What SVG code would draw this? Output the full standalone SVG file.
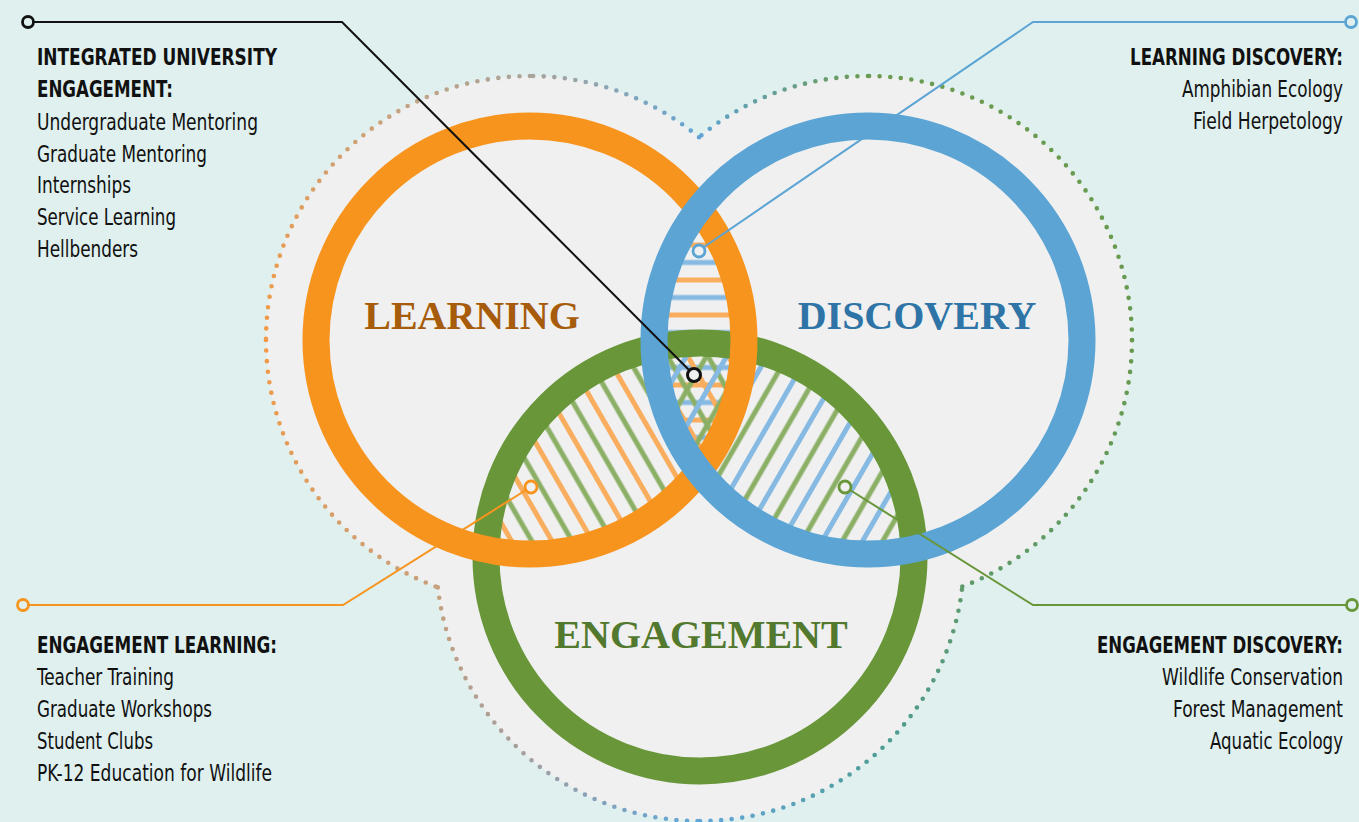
<svg xmlns="http://www.w3.org/2000/svg" width="1359" height="822" viewBox="0 0 1359 822">
<style>
.t{font-family:'Liberation Sans Narrow','DejaVu Sans Condensed','Liberation Sans',sans-serif;font-size:23px;fill:#111;}
.b{font-weight:bold;}
.big{font-family:'Liberation Serif','DejaVu Serif',serif;font-weight:bold;font-size:40px;text-anchor:middle;}
.dot{fill:none;stroke-width:4.6;stroke-linecap:round;stroke-dasharray:0 10.6;}
.ring{fill:none;stroke-width:27;}
.con{fill:none;stroke-width:2;}
</style>
<defs>
<linearGradient id="gL1" gradientUnits="userSpaceOnUse" x1="699" y1="137" x2="530" y2="76"><stop offset="0" stop-color="#62A4D4"/><stop offset="1" stop-color="#A8A49A"/></linearGradient>
<linearGradient id="gL2" gradientUnits="userSpaceOnUse" x1="530" y1="76" x2="266" y2="340"><stop offset="0" stop-color="#A8A49A"/><stop offset="0.35" stop-color="#C9A27E"/><stop offset="1" stop-color="#F29A45"/></linearGradient>
<linearGradient id="gL3" gradientUnits="userSpaceOnUse" x1="266" y1="340" x2="438" y2="587"><stop offset="0" stop-color="#F29A45"/><stop offset="1" stop-color="#C7A07E"/></linearGradient>
<linearGradient id="gE1" gradientUnits="userSpaceOnUse" x1="438" y1="587" x2="700" y2="821"><stop offset="0" stop-color="#C7A07E"/><stop offset="0.5" stop-color="#A69E9E"/><stop offset="1" stop-color="#62A6D6"/></linearGradient>
<linearGradient id="gE2" gradientUnits="userSpaceOnUse" x1="700" y1="821" x2="962" y2="587"><stop offset="0" stop-color="#62A6D6"/><stop offset="0.5" stop-color="#4E9C96"/><stop offset="1" stop-color="#5E9A6C"/></linearGradient>
<linearGradient id="gB1" gradientUnits="userSpaceOnUse" x1="962" y1="587" x2="1132" y2="340"><stop offset="0" stop-color="#5E9A6C"/><stop offset="1" stop-color="#679A4E"/></linearGradient>
<linearGradient id="gB2" gradientUnits="userSpaceOnUse" x1="1132" y1="340" x2="868" y2="76"><stop offset="0" stop-color="#679A4E"/><stop offset="1" stop-color="#6B9B52"/></linearGradient>
<linearGradient id="gB3" gradientUnits="userSpaceOnUse" x1="868" y1="76" x2="699" y2="137"><stop offset="0" stop-color="#6B9B52"/><stop offset="1" stop-color="#5FA3D3"/></linearGradient>
<pattern id="pLB" patternUnits="userSpaceOnUse" x="0" y="242.5" width="35" height="35"><rect x="0" y="0" width="35" height="5" fill="#F9AD5F"/><rect x="0" y="17.5" width="35" height="5" fill="#86BAE2"/></pattern>
<pattern id="pLE" patternUnits="userSpaceOnUse" width="35" height="35" patternTransform="rotate(60)"><rect x="0" y="0" width="35" height="5" fill="#F9AD5F"/><rect x="0" y="17.5" width="35" height="5" fill="#8CAF66"/></pattern>
<pattern id="pBE" patternUnits="userSpaceOnUse" width="35" height="35" patternTransform="rotate(-60)"><rect x="0" y="0" width="35" height="5" fill="#86BAE2"/><rect x="0" y="17.5" width="35" height="5" fill="#8CAF66"/></pattern>
<clipPath id="cL"><circle cx="530" cy="340" r="214"/></clipPath>
<clipPath id="cB"><circle cx="868" cy="340" r="214"/></clipPath>
</defs>
<rect width="1359" height="822" fill="#DFF0EE"/>
<g id="backdrop">
<path d="M699 137.2 A264 264 0 1 0 437.8 587.4 A264 264 0 0 0 962.3 586.6 A264 264 0 1 0 699 137.2 Z" fill="#F0F0F0"/>
<path class="dot" stroke="url(#gL1)" d="M699 137.2 A264 264 0 0 0 530 76"/>
<path class="dot" stroke="url(#gL2)" d="M530 76 A264 264 0 0 0 266 340"/>
<path class="dot" stroke="url(#gL3)" d="M266 340 A264 264 0 0 0 437.8 587.4"/>
<path class="dot" stroke="url(#gE1)" d="M437.8 587.4 A264 264 0 0 0 700 821"/>
<path class="dot" stroke="url(#gE2)" d="M700 821 A264 264 0 0 0 962.3 586.6"/>
<path class="dot" stroke="url(#gB1)" d="M962.3 586.6 A264 264 0 0 0 1132 340"/>
<path class="dot" stroke="url(#gB2)" d="M1132 340 A264 264 0 0 0 868 76"/>
<path class="dot" stroke="url(#gB3)" d="M868 76 A264 264 0 0 0 699 137.2"/>
</g>
<g id="hatching">
<g clip-path="url(#cL)"><circle cx="868" cy="340" r="214" fill="url(#pLB)"/></g>
<g clip-path="url(#cL)"><circle cx="700" cy="557" r="214" fill="url(#pLE)"/></g>
<g clip-path="url(#cB)"><circle cx="700" cy="557" r="214" fill="url(#pBE)"/></g>
</g>
<g id="engagement">
<circle class="ring" cx="700" cy="557" r="214" stroke="#689639"/>
<text class="big" x="701" y="648" fill="#52792E">ENGAGEMENT</text>
</g>
<g id="learning">
<circle class="ring" cx="530" cy="340" r="214" stroke="#F7941E"/>
<text class="big" x="472" y="329" fill="#A65C0A">LEARNING</text>
</g>
<g id="discovery">
<circle class="ring" cx="868" cy="340" r="214" stroke="#5BA4D4"/>
<text class="big" x="917" y="329" fill="#2E74A6">DISCOVERY</text>
</g>
<g id="connectors">
<polyline class="con" stroke="#111" stroke-width="2.2" points="34,22 342,22 689,370"/>
<circle cx="28" cy="22" r="5.5" fill="#DFF0EE" stroke="#111" stroke-width="2.8"/>
<circle cx="694" cy="375" r="6.5" fill="#F0F0F0" stroke="#111" stroke-width="3"/>
<polyline class="con" stroke="#5BA4D4" points="1345,22 1033,22 704,247"/>
<circle cx="1351" cy="22" r="5.5" fill="#DFF0EE" stroke="#5BA4D4" stroke-width="2.8"/>
<circle cx="699" cy="251" r="6" fill="#F0F0F0" stroke="#5BA4D4" stroke-width="2.8"/>
<polyline class="con" stroke="#F7941E" points="29,605 343,605 526,490"/>
<circle cx="23" cy="605" r="5.5" fill="#DFF0EE" stroke="#F7941E" stroke-width="2.8"/>
<circle cx="531" cy="487" r="6" fill="#F0F0F0" stroke="#F7941E" stroke-width="2.8"/>
<polyline class="con" stroke="#689639" points="1346,605 1033,605 850,490"/>
<circle cx="1352" cy="605" r="5.5" fill="#DFF0EE" stroke="#689639" stroke-width="2.8"/>
<circle cx="845" cy="487" r="6" fill="#F0F0F0" stroke="#689639" stroke-width="2.8"/>
</g>
<g id="label-integrated">
<text class="t b" x="37" y="65" textLength="240" lengthAdjust="spacingAndGlyphs">INTEGRATED UNIVERSITY</text>
<text class="t b" x="37" y="97" textLength="136" lengthAdjust="spacingAndGlyphs">ENGAGEMENT:</text>
<text class="t" x="37" y="130" textLength="221" lengthAdjust="spacingAndGlyphs">Undergraduate Mentoring</text>
<text class="t" x="37" y="162" textLength="170" lengthAdjust="spacingAndGlyphs">Graduate Mentoring</text>
<text class="t" x="37" y="193" textLength="94" lengthAdjust="spacingAndGlyphs">Internships</text>
<text class="t" x="37" y="225" textLength="139" lengthAdjust="spacingAndGlyphs">Service Learning</text>
<text class="t" x="37" y="257" textLength="101" lengthAdjust="spacingAndGlyphs">Hellbenders</text>
</g>
<g id="label-learning-discovery" transform="scale(0.75,1)">
<text class="t b" x="1506.67" y="65" textLength="284" lengthAdjust="spacingAndGlyphs">LEARNING DISCOVERY:</text>
<text class="t" x="1576" y="97" textLength="214.67" lengthAdjust="spacingAndGlyphs">Amphibian Ecology</text>
<text class="t" x="1590.67" y="129" textLength="200" lengthAdjust="spacingAndGlyphs">Field Herpetology</text>
</g>
<g id="label-engagement-learning">
<text class="t b" x="37" y="653" textLength="240" lengthAdjust="spacingAndGlyphs">ENGAGEMENT LEARNING:</text>
<text class="t" x="37" y="685" textLength="137" lengthAdjust="spacingAndGlyphs">Teacher Training</text>
<text class="t" x="37" y="717" textLength="175" lengthAdjust="spacingAndGlyphs">Graduate Workshops</text>
<text class="t" x="37" y="749" textLength="116" lengthAdjust="spacingAndGlyphs">Student Clubs</text>
<text class="t" x="37" y="781" textLength="235" lengthAdjust="spacingAndGlyphs">PK-12 Education for Wildlife</text>
</g>
<g id="label-engagement-discovery" transform="scale(0.75,1)">
<text class="t b" x="1462.67" y="653" textLength="328" lengthAdjust="spacingAndGlyphs">ENGAGEMENT DISCOVERY:</text>
<text class="t" x="1549.33" y="685" textLength="241.33" lengthAdjust="spacingAndGlyphs">Wildlife Conservation</text>
<text class="t" x="1564" y="717" textLength="226.67" lengthAdjust="spacingAndGlyphs">Forest Management</text>
<text class="t" x="1613.33" y="749" textLength="177.33" lengthAdjust="spacingAndGlyphs">Aquatic Ecology</text>
</g>
</svg>
